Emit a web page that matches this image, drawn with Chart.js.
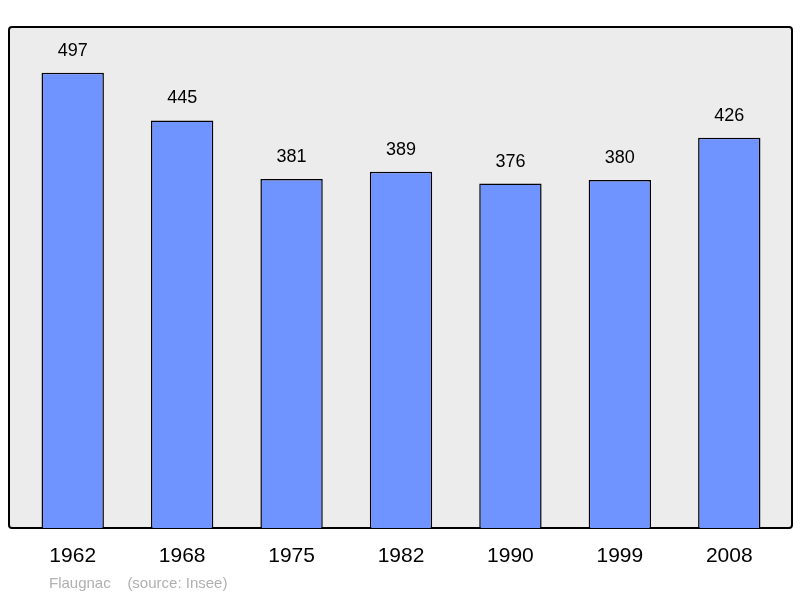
<!DOCTYPE html>
<html><head><meta charset="utf-8">
<script src="https://cdn.jsdelivr.net/npm/chart.js@4"></script>
<style>html,body{margin:0;padding:0;background:#fff}#w{width:800px;height:598px}</style>
</head><body><div id="w"><canvas id="c"></canvas></div>
<script>
const years = ["1962","1968","1975","1982","1990","1999","2008"];
const population = [497,445,381,389,376,380,426];
const footer = "Flaugnac    (source: Insee)";

const deco = {
  id:'deco',
  beforeDraw(ch){
    const c=ch.ctx, a=ch.chartArea;
    c.save();
    c.fillStyle='#ececec'; c.strokeStyle='#000'; c.lineWidth=2;
    c.beginPath(); c.roundRect(9,27,783,501,3); c.fill(); c.stroke();
    c.restore();
  },
  afterDatasetsDraw(ch){
    const c=ch.ctx, x=ch.scales.x, y=ch.scales.y;
    c.save();
    c.fillStyle='#000'; c.textAlign='center'; c.textBaseline='middle';
    c.font='18px "Liberation Sans", Arial, sans-serif';
    population.forEach((v,i)=>c.fillText(String(v), x.getPixelForValue(i), y.getPixelForValue(v)-22));
    c.font='21px "Liberation Sans", Arial, sans-serif';
    years.forEach((t,i)=>c.fillText(t, x.getPixelForValue(i), 556));
    c.fillStyle='#b0b0b0'; c.textAlign='left';
    c.font='15px "Liberation Sans", Arial, sans-serif';
    c.fillText(footer, 49, 584);
    c.restore();
  }
};

new Chart(document.getElementById('c'),{
  type:'bar',
  data:{labels:years,datasets:[{data:population,backgroundColor:'#7094ff',borderColor:'#000',borderWidth:1.5,barPercentage:0.57,categoryPercentage:1}]},
  options:{
    responsive:true,maintainAspectRatio:false,animation:false,
    layout:{padding:{left:18,right:16,top:27,bottom:70}},
    plugins:{legend:{display:false},tooltip:{enabled:false}},
    scales:{x:{display:false},y:{display:false,min:0,max:547}}
  },
  plugins:[deco]
});
</script></body></html>
